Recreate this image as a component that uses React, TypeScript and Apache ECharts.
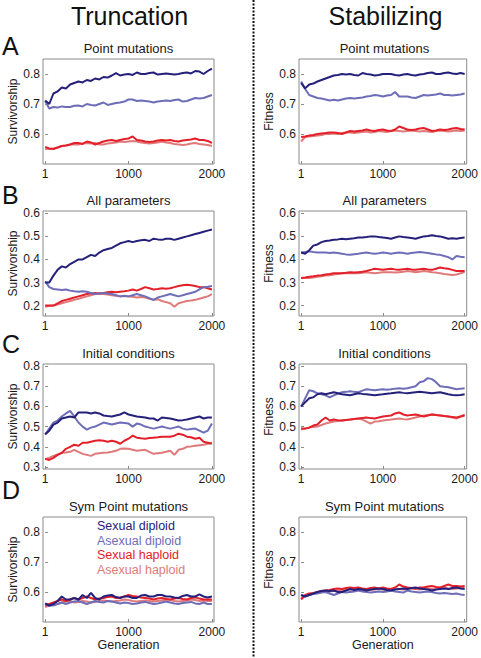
import React, { useEffect, useRef } from "react";
import * as echarts from "echarts";

// Generations sampled (every 50)
const gens = [1, 50, 100, 150, 200, 250, 300, 350, 400, 450, 500, 550, 600, 650, 700, 750, 800, 850, 900, 950, 1000, 1050, 1100, 1150, 1200, 1250, 1300, 1350, 1400, 1450, 1500, 1550, 1600, 1650, 1700, 1750, 1800, 1850, 1900, 1950, 2000];

const seriesNames = ["Sexual diploid", "Asexual diploid", "Sexual haploid", "Asexual haploid"];
const xTickValues = [1, 1000, 2000];

// Truncation – Point mutations (Survivorship)
const truncPointSD = [0.712,0.700,0.735,0.742,0.755,0.752,0.765,0.770,0.775,0.772, 0.780,0.777,0.785,0.782,0.790,0.788,0.795,0.803,0.795,0.798, 0.800,0.797,0.805,0.800,0.800,0.803,0.805,0.798,0.800,0.802, 0.800,0.798,0.800,0.803,0.805,0.802,0.810,0.808,0.800,0.810,0.818];
const truncPointAD = [0.710,0.685,0.690,0.688,0.692,0.690,0.690,0.694,0.695,0.692, 0.700,0.697,0.695,0.700,0.705,0.697,0.700,0.703,0.705,0.708, 0.715,0.715,0.710,0.712,0.710,0.708,0.705,0.708,0.710,0.712, 0.710,0.713,0.715,0.708,0.710,0.715,0.720,0.718,0.720,0.725,0.730];
const truncPointSH = [0.557,0.552,0.550,0.555,0.560,0.562,0.565,0.570,0.570,0.567, 0.575,0.572,0.565,0.570,0.575,0.578,0.580,0.577,0.580,0.583, 0.585,0.592,0.580,0.578,0.575,0.573,0.575,0.578,0.580,0.578, 0.580,0.577,0.575,0.578,0.580,0.582,0.585,0.580,0.580,0.577,0.570];
const truncPointAH = [0.550,0.550,0.552,0.555,0.560,0.562,0.565,0.565,0.565,0.568, 0.570,0.568,0.570,0.565,0.565,0.568,0.570,0.572,0.575,0.573, 0.575,0.577,0.575,0.572,0.570,0.568,0.570,0.572,0.575,0.572, 0.570,0.567,0.565,0.563,0.565,0.568,0.570,0.567,0.565,0.563,0.560];

// Stabilizing – Point mutations (Fitness)
const stabPointSD = [0.770,0.752,0.765,0.768,0.775,0.780,0.785,0.790,0.795,0.797, 0.800,0.798,0.800,0.797,0.795,0.803,0.800,0.798,0.795,0.797, 0.800,0.800,0.800,0.797,0.795,0.798,0.800,0.797,0.795,0.798, 0.800,0.803,0.805,0.800,0.800,0.803,0.805,0.802,0.800,0.803,0.800];
const stabPointAD = [0.775,0.750,0.730,0.725,0.720,0.718,0.715,0.712,0.714,0.712, 0.715,0.718,0.720,0.718,0.720,0.722,0.725,0.727,0.730,0.728, 0.725,0.728,0.730,0.740,0.725,0.725,0.725,0.722,0.720,0.725, 0.730,0.728,0.730,0.732,0.735,0.730,0.730,0.728,0.730,0.732,0.735];
const stabPointSH = [0.590,0.592,0.595,0.597,0.600,0.602,0.603,0.605,0.605,0.603, 0.600,0.605,0.610,0.608,0.610,0.612,0.615,0.612,0.610,0.613, 0.615,0.612,0.610,0.615,0.625,0.620,0.615,0.613,0.615,0.618, 0.620,0.615,0.610,0.612,0.615,0.613,0.615,0.618,0.620,0.617,0.615];
const stabPointAH = [0.575,0.590,0.592,0.593,0.595,0.597,0.600,0.600,0.602,0.600, 0.603,0.605,0.605,0.603,0.605,0.607,0.608,0.605,0.607,0.610, 0.608,0.607,0.610,0.612,0.610,0.608,0.610,0.612,0.610,0.608, 0.610,0.608,0.607,0.610,0.612,0.610,0.608,0.610,0.612,0.610,0.612];

// Truncation – All parameters
const truncAllSD = [0.300,0.300,0.330,0.355,0.370,0.365,0.380,0.390,0.400,0.400, 0.410,0.420,0.415,0.430,0.440,0.445,0.450,0.460,0.470,0.475, 0.480,0.475,0.480,0.483,0.485,0.480,0.490,0.487,0.485,0.490, 0.490,0.485,0.490,0.495,0.500,0.505,0.510,0.515,0.520,0.525,0.530];
const truncAllAD = [0.305,0.280,0.272,0.270,0.268,0.270,0.265,0.262,0.260,0.262, 0.260,0.255,0.250,0.253,0.255,0.252,0.250,0.245,0.240,0.243, 0.240,0.245,0.250,0.245,0.240,0.232,0.225,0.235,0.240,0.245, 0.250,0.245,0.240,0.245,0.250,0.255,0.260,0.270,0.280,0.282,0.285];
const truncAllSH = [0.200,0.200,0.200,0.210,0.220,0.225,0.230,0.235,0.240,0.245, 0.250,0.252,0.255,0.253,0.255,0.258,0.260,0.258,0.260,0.262, 0.265,0.270,0.265,0.272,0.280,0.275,0.270,0.272,0.275,0.273, 0.275,0.280,0.285,0.288,0.290,0.288,0.285,0.280,0.280,0.275,0.270];
const truncAllAH = [0.195,0.198,0.200,0.205,0.210,0.215,0.220,0.225,0.230,0.235, 0.240,0.245,0.250,0.252,0.250,0.248,0.245,0.243,0.240,0.242, 0.240,0.238,0.235,0.237,0.235,0.230,0.225,0.228,0.220,0.215, 0.210,0.195,0.210,0.215,0.220,0.222,0.225,0.230,0.235,0.240,0.250];

// Stabilizing – All parameters
const stabAllSD = [0.430,0.425,0.440,0.460,0.465,0.475,0.480,0.482,0.485,0.487, 0.490,0.488,0.490,0.492,0.495,0.495,0.497,0.500,0.500,0.497, 0.495,0.493,0.490,0.495,0.500,0.497,0.495,0.493,0.490,0.495, 0.500,0.502,0.505,0.502,0.500,0.495,0.490,0.492,0.490,0.493,0.495];
const stabAllAD = [0.430,0.432,0.435,0.432,0.430,0.430,0.430,0.428,0.430,0.428, 0.425,0.422,0.420,0.423,0.425,0.428,0.430,0.427,0.425,0.427, 0.430,0.428,0.425,0.428,0.430,0.428,0.425,0.428,0.430,0.432, 0.430,0.428,0.425,0.422,0.420,0.415,0.410,0.400,0.415,0.412,0.410];
const stabAllSH = [0.320,0.322,0.325,0.327,0.330,0.332,0.335,0.337,0.340,0.340, 0.340,0.342,0.345,0.343,0.345,0.347,0.350,0.355,0.360,0.358, 0.355,0.358,0.360,0.357,0.355,0.358,0.360,0.357,0.355,0.358, 0.360,0.357,0.355,0.360,0.365,0.362,0.360,0.355,0.350,0.350,0.350];
const stabAllAH = [0.320,0.320,0.320,0.322,0.325,0.327,0.330,0.332,0.335,0.337, 0.340,0.340,0.340,0.340,0.340,0.342,0.345,0.342,0.340,0.342, 0.345,0.345,0.345,0.343,0.345,0.347,0.350,0.348,0.345,0.347, 0.350,0.348,0.345,0.343,0.340,0.337,0.335,0.333,0.335,0.340,0.345];

// Truncation – Initial conditions
const truncInitSD = [0.462,0.480,0.510,0.520,0.540,0.545,0.550,0.545,0.570,0.570, 0.570,0.565,0.570,0.565,0.555,0.552,0.550,0.555,0.560,0.570, 0.560,0.555,0.550,0.548,0.545,0.540,0.540,0.530,0.545,0.543, 0.540,0.535,0.530,0.532,0.535,0.540,0.545,0.550,0.540,0.545,0.545];
const truncInitAD = [0.460,0.490,0.520,0.530,0.550,0.565,0.578,0.550,0.520,0.500, 0.485,0.495,0.500,0.510,0.520,0.515,0.510,0.515,0.520,0.518, 0.515,0.500,0.515,0.510,0.500,0.495,0.490,0.495,0.500,0.495, 0.490,0.495,0.500,0.490,0.485,0.488,0.490,0.480,0.470,0.480,0.515];
const truncInitSH = [0.340,0.335,0.345,0.360,0.370,0.390,0.400,0.410,0.405,0.420, 0.420,0.425,0.430,0.432,0.430,0.425,0.430,0.425,0.415,0.430, 0.440,0.455,0.445,0.442,0.440,0.443,0.445,0.447,0.450,0.450, 0.450,0.455,0.465,0.460,0.450,0.447,0.440,0.445,0.425,0.420,0.415];
const truncInitAH = [0.340,0.345,0.355,0.362,0.370,0.372,0.375,0.385,0.375,0.365, 0.360,0.355,0.365,0.368,0.370,0.372,0.375,0.380,0.390,0.392, 0.390,0.385,0.380,0.383,0.385,0.375,0.365,0.368,0.370,0.375, 0.380,0.360,0.385,0.390,0.400,0.402,0.405,0.408,0.410,0.415,0.420];

// Stabilizing – Initial conditions
const stabInitSD = [0.600,0.620,0.640,0.645,0.660,0.665,0.660,0.665,0.670,0.665, 0.660,0.658,0.655,0.660,0.665,0.662,0.660,0.658,0.655,0.658, 0.660,0.663,0.665,0.668,0.670,0.667,0.665,0.668,0.670,0.672, 0.670,0.668,0.665,0.668,0.670,0.665,0.660,0.657,0.655,0.657,0.660];
const stabInitAD = [0.598,0.640,0.680,0.675,0.665,0.660,0.655,0.645,0.655,0.662, 0.670,0.672,0.675,0.672,0.670,0.678,0.685,0.682,0.680,0.683, 0.685,0.683,0.685,0.688,0.690,0.688,0.690,0.695,0.700,0.720, 0.725,0.740,0.735,0.720,0.700,0.697,0.695,0.690,0.685,0.688,0.690];
const stabInitSH = [0.490,0.490,0.495,0.505,0.510,0.530,0.545,0.530,0.535,0.532, 0.530,0.533,0.535,0.538,0.540,0.543,0.545,0.542,0.540,0.545, 0.550,0.553,0.555,0.565,0.570,0.560,0.555,0.558,0.560,0.555, 0.550,0.555,0.560,0.557,0.555,0.552,0.550,0.548,0.545,0.550,0.555];
const stabInitAH = [0.485,0.490,0.495,0.498,0.500,0.508,0.515,0.520,0.525,0.528, 0.530,0.533,0.535,0.538,0.540,0.535,0.525,0.515,0.525,0.527, 0.530,0.533,0.535,0.538,0.540,0.537,0.535,0.540,0.545,0.550, 0.555,0.557,0.560,0.557,0.555,0.552,0.550,0.545,0.540,0.550,0.560];

// Truncation – Sym Point mutations
const truncSymSD = [0.562,0.555,0.560,0.570,0.585,0.575,0.575,0.580,0.575,0.590, 0.580,0.597,0.580,0.575,0.585,0.588,0.590,0.583,0.580,0.585, 0.585,0.580,0.580,0.588,0.590,0.585,0.585,0.590,0.590,0.585, 0.585,0.582,0.580,0.587,0.590,0.585,0.585,0.592,0.585,0.582,0.585];
const truncSymAD = [0.560,0.555,0.555,0.560,0.565,0.560,0.565,0.568,0.570,0.565, 0.560,0.565,0.570,0.567,0.565,0.570,0.568,0.565,0.562,0.565, 0.563,0.560,0.562,0.565,0.567,0.563,0.560,0.562,0.565,0.568, 0.565,0.562,0.560,0.563,0.565,0.567,0.562,0.560,0.565,0.560,0.560];
const truncSymSH = [0.555,0.560,0.565,0.570,0.575,0.570,0.575,0.580,0.575,0.580, 0.585,0.580,0.575,0.578,0.580,0.583,0.585,0.580,0.582,0.585, 0.590,0.587,0.585,0.582,0.580,0.578,0.575,0.578,0.580,0.577, 0.575,0.578,0.580,0.577,0.575,0.580,0.582,0.578,0.575,0.575,0.575];
const truncSymAH = [0.550,0.555,0.558,0.560,0.565,0.568,0.570,0.565,0.567,0.570, 0.568,0.565,0.567,0.570,0.572,0.570,0.568,0.570,0.572,0.575, 0.573,0.570,0.568,0.570,0.572,0.570,0.568,0.570,0.572,0.575, 0.573,0.570,0.568,0.570,0.572,0.575,0.573,0.570,0.572,0.570,0.570];

// Stabilizing – Sym Point mutations
const stabSymSD = [0.590,0.585,0.590,0.595,0.600,0.603,0.605,0.603,0.605,0.600, 0.600,0.605,0.610,0.607,0.610,0.608,0.605,0.608,0.610,0.612, 0.610,0.607,0.605,0.608,0.610,0.612,0.610,0.613,0.615,0.612, 0.610,0.608,0.605,0.608,0.610,0.612,0.610,0.613,0.615,0.612,0.610];
const stabSymAD = [0.590,0.585,0.590,0.593,0.595,0.598,0.600,0.595,0.590,0.595, 0.600,0.598,0.600,0.602,0.605,0.602,0.600,0.598,0.600,0.602, 0.600,0.602,0.605,0.602,0.600,0.598,0.605,0.602,0.600,0.598, 0.600,0.602,0.600,0.597,0.595,0.597,0.595,0.593,0.595,0.592,0.590];
const stabSymSH = [0.575,0.590,0.595,0.597,0.600,0.603,0.605,0.607,0.610,0.612, 0.610,0.613,0.615,0.613,0.615,0.612,0.610,0.613,0.615,0.612, 0.615,0.612,0.610,0.615,0.625,0.618,0.615,0.613,0.612,0.615, 0.615,0.618,0.620,0.617,0.615,0.620,0.625,0.620,0.620,0.618,0.620];
const stabSymAH = [0.580,0.588,0.592,0.595,0.598,0.600,0.600,0.602,0.603,0.605, 0.605,0.607,0.608,0.610,0.608,0.607,0.605,0.607,0.608,0.610, 0.608,0.607,0.610,0.612,0.610,0.608,0.610,0.612,0.610,0.608, 0.610,0.612,0.610,0.608,0.612,0.615,0.612,0.610,0.612,0.613,0.615];

// y tick labels per row
const yTicksPoint = [0.6, 0.7, 0.8];
const yTicksAll = [0.2, 0.3, 0.4, 0.5, 0.6];
const yTicksInit = [0.3, 0.4, 0.5, 0.6, 0.7, 0.8];

const columnTitles = ["Truncation", "Stabilizing"];
const rowLetters = ["A", "B", "C", "D"];
const panelTitles = ["Point mutations", "All parameters", "Initial conditions", "Sym Point mutations"];
const yNames = ["Survivorship", "Fitness"];

const COLORS = ["#25217a", "#6e6db8", "#e3202a", "#e07a7a"];
const FONT = "'Liberation Sans', Arial, Helvetica, sans-serif";

export default function App() {
  const ref = useRef<HTMLDivElement>(null);

  useEffect(() => {
    if (!ref.current) return;
    const chart = echarts.init(ref.current, null, { renderer: "svg" });

    const panels = [
      { col: 0, row: 0, data: [truncPointSD, truncPointAD, truncPointSH, truncPointAH], ticks: yTicksPoint, min: 0.5, max: 0.85 },
      { col: 1, row: 0, data: [stabPointSD, stabPointAD, stabPointSH, stabPointAH], ticks: yTicksPoint, min: 0.5, max: 0.85 },
      { col: 0, row: 1, data: [truncAllSD, truncAllAD, truncAllSH, truncAllAH], ticks: yTicksAll, min: 0.155, max: 0.61 },
      { col: 1, row: 1, data: [stabAllSD, stabAllAD, stabAllSH, stabAllAH], ticks: yTicksAll, min: 0.155, max: 0.61 },
      { col: 0, row: 2, data: [truncInitSD, truncInitAD, truncInitSH, truncInitAH], ticks: yTicksInit, min: 0.29, max: 0.81 },
      { col: 1, row: 2, data: [stabInitSD, stabInitAD, stabInitSH, stabInitAH], ticks: yTicksInit, min: 0.29, max: 0.81 },
      { col: 0, row: 3, data: [truncSymSD, truncSymAD, truncSymSH, truncSymAH], ticks: yTicksPoint, min: 0.5, max: 0.85 },
      { col: 1, row: 3, data: [stabSymSD, stabSymAD, stabSymSH, stabSymAH], ticks: yTicksPoint, min: 0.5, max: 0.85 },
    ];

    const colLeft = [43, 299];
    const rowTop = [59, 211, 364, 517];
    const gw = 171;
    const gh = 105;

    const grids: any[] = [];
    const xAxes: any[] = [];
    const yAxes: any[] = [];
    const series: any[] = [];
    const graphics: any[] = [];

    panels.forEach((p, i) => {
      grids.push({
        left: colLeft[p.col], top: rowTop[p.row], width: gw, height: gh,
        show: true, borderColor: "#8a8a8a", borderWidth: 1, backgroundColor: "#fff",
      });
      xAxes.push({
        type: "value", gridIndex: i, min: -25, max: 2025,
        axisLine: { show: false }, splitLine: { show: false },
        axisTick: { show: true, inside: true, length: 3, lineStyle: { color: "#8a8a8a" }, customValues: xTickValues },
        axisLabel: { color: "#1a1a1a", fontSize: 12, fontFamily: FONT, margin: 4, customValues: xTickValues, formatter: (v: number) => String(v) },
        name: p.row === 3 ? "Generation" : "",
        nameLocation: "middle", nameGap: 16,
        nameTextStyle: { color: "#1a1a1a", fontSize: 12.5, fontFamily: FONT },
      });
      yAxes.push({
        type: "value", gridIndex: i, min: p.min, max: p.max,
        axisLine: { show: false }, splitLine: { show: false },
        axisTick: { show: true, inside: true, length: 3, lineStyle: { color: "#8a8a8a" }, customValues: p.ticks },
        axisLabel: { color: "#1a1a1a", fontSize: 12, fontFamily: FONT, margin: 3, customValues: p.ticks, formatter: (v: number) => v.toFixed(1) },
        name: yNames[p.col], nameLocation: "middle", nameGap: 24, nameRotate: 90,
        nameTextStyle: { color: "#1a1a1a", fontSize: 12, fontFamily: FONT },
      });
      const order = [3, 2, 1, 0];
      order.forEach((s) => {
        series.push({
          type: "line", name: seriesNames[s], xAxisIndex: i, yAxisIndex: i,
          data: gens.map((g, k) => [g, p.data[s][k]]),
          showSymbol: false, symbol: "none",
          lineStyle: { color: COLORS[s], width: 2 },
          itemStyle: { color: COLORS[s] },
          silent: true,
        });
      });
    });

    // column headers
    columnTitles.forEach((t, c) => {
      graphics.push({
        type: "text", x: colLeft[c] + gw / 2 + 1, y: 16,
        style: { text: t, fontSize: 25, fontFamily: FONT, fill: "#111", align: "center", verticalAlign: "middle" },
      });
    });
    // row letters
    const letterY = [46, 194.5, 343.5, 489.5];
    rowLetters.forEach((l, r) => {
      graphics.push({
        type: "text", x: 2, y: letterY[r],
        style: { text: l, fontSize: 25, fontFamily: FONT, fill: "#111", align: "left", verticalAlign: "middle" },
      });
    });
    // panel titles
    [0, 1].forEach((c) => {
      panelTitles.forEach((t, r) => {
        graphics.push({
          type: "text", x: colLeft[c] + gw / 2, y: rowTop[r] - 11,
          style: { text: t, fontSize: 13, fontFamily: FONT, fill: "#1a1a1a", align: "center", verticalAlign: "middle" },
        });
      });
    });
    // dotted separator
    graphics.push({
      type: "line", shape: { x1: 253.5, y1: 0, x2: 253.5, y2: 658 },
      style: { stroke: "#111", lineWidth: 2, lineDash: [2, 1.5] },
    });

    chart.setOption({
      animation: false,
      backgroundColor: "#fff",
      textStyle: { fontFamily: FONT },
      grid: grids,
      xAxis: xAxes,
      yAxis: yAxes,
      series,
      legend: {
        orient: "vertical", left: 92, top: 519, padding: 0,
        icon: "none", itemWidth: 0, itemHeight: 14, itemGap: 1,
        selectedMode: false,
        data: seriesNames.map((n, s) => ({ name: n, textStyle: { color: COLORS[s], fontSize: 12.5, fontFamily: FONT } })),
      },
      graphic: graphics,
    });

    return () => chart.dispose();
  }, []);

  return <div ref={ref} style={{ position: "absolute", left: 0, top: 0, width: 481, height: 658 }} />;
}
